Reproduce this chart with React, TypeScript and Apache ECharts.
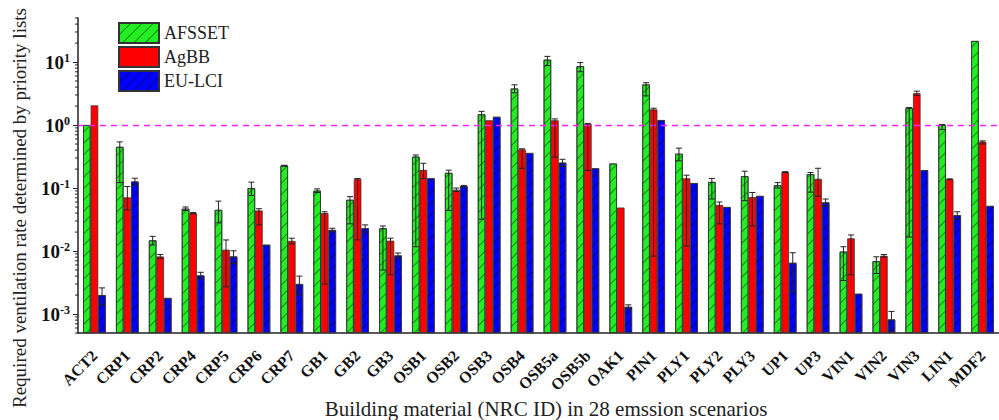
import { useEffect, useRef } from "react";
import * as echarts from "echarts";

const categories = [
  "ACT2", "CRP1", "CRP2", "CRP4", "CRP5", "CRP6", "CRP7", "GB1", "GB2", "GB3",
  "OSB1", "OSB2", "OSB3", "OSB4", "OSB5a", "OSB5b", "OAK1", "PIN1", "PLY1", "PLY2",
  "PLY3", "UP1", "UP3", "VIN1", "VIN2", "VIN3", "LIN1", "MDF2",
];

const seriesNames = ["AFSSET", "AgBB", "EU-LCI"];

const afssetValues = [
  1.0, 0.45, 0.0148, 0.047, 0.045, 0.1, 0.227, 0.091, 0.065, 0.023,
  0.315, 0.174, 1.48, 3.8, 10.9, 8.6, 0.245, 4.4, 0.35, 0.125,
  0.154, 0.111, 0.166, 0.0098, 0.0069, 1.86, 1.0, 21.6,
];
const afssetHigh = [
  null, 0.54, 0.0171, 0.05, 0.062, 0.124, 0.23, 0.097, 0.073, 0.025,
  0.335, 0.192, 1.65, 4.35, 12.3, 9.8, null, 4.7, 0.43, 0.142,
  0.185, 0.122, 0.176, 0.0117, 0.0081, 1.9, 1.02, null,
];
const afssetLow = [
  null, 0.122, 0.0125, 0.044, 0.028, 0.076, 0.224, 0.085, 0.027, 0.005,
  0.0117, 0.044, 0.032, 3.25, 8.8, 7.0, null, 2.9, 0.27, 0.067,
  0.063, 0.1, 0.086, 0.0034, 0.0044, 0.0167, 0.85, null,
];

const agbbValues = [
  2.05, 0.071, 0.0082, 0.04, 0.0105, 0.044, 0.0145, 0.04, 0.14, 0.0146,
  0.194, 0.094, 1.19, 0.41, 1.19, 1.04, 0.049, 1.77, 0.143, 0.054,
  0.072, 0.179, 0.14, 0.0159, 0.0084, 3.2, 0.138, 0.545,
];
const agbbHigh = [
  null, 0.106, 0.0088, 0.041, 0.015, 0.047, 0.016, 0.042, 0.142, 0.016,
  0.247, 0.1, null, 0.42, 1.25, 1.06, null, 1.85, 0.16, 0.06,
  0.085, 0.182, 0.206, 0.018, 0.0088, 3.45, 0.14, 0.56,
];
const agbbLow = [
  null, 0.045, 0.0076, 0.039, 0.0027, 0.026, 0.013, 0.003, 0.015, 0.0042,
  0.141, 0.088, null, 0.206, 0.31, 0.19, null, 0.0083, 0.012, 0.027,
  0.025, 0.176, 0.074, 0.0042, 0.008, 2.95, 0.136, 0.5,
];

const eulciValues = [
  0.002, 0.127, 0.0018, 0.0041, 0.0082, 0.0126, 0.003, 0.0216, 0.023, 0.0085,
  0.143, 0.107, 1.35, 0.36, 0.253, 0.206, 0.0013, 1.2, 0.12, 0.05,
  0.075, 0.0065, 0.059, 0.0021, 0.00082, 0.192, 0.037, 0.052,
];
const eulciHigh = [
  0.0026, 0.143, null, 0.0046, 0.0101, null, 0.004, 0.023, 0.026, 0.0093,
  null, 0.11, null, null, 0.286, null, 0.0014, null, null, null,
  null, 0.0094, 0.067, null, 0.0011, null, 0.042, null,
];
const eulciLow = [
  0.0014, 0.111, null, 0.0036, 0.0063, null, 0.002, 0.0202, 0.02, 0.0077,
  null, 0.104, null, null, 0.22, null, 0.0012, null, null, null,
  null, 0.0023, 0.051, null, 0.00054, null, 0.032, null,
];

const yTickExponents = [-3, -2, -1, 0, 1];
const referenceLevel = 1;

const FONT = "Liberation Serif";

export default function App() {
  const ref = useRef<HTMLDivElement>(null);

  useEffect(() => {
    document.body.style.margin = "0";
    const chart = echarts.init(ref.current!, null, { renderer: "svg" });

    const values = [afssetValues, agbbValues, eulciValues];
    const highs = [afssetHigh, agbbHigh, eulciHigh];
    const lows = [afssetLow, agbbLow, eulciLow];
    const colors = ["#22ee22", "#ff0000", "#0000ff"];
    const decals: any[] = [
      { symbol: "rect", symbolSize: 1, dashArrayX: [1, 0], dashArrayY: [1, 7], rotation: -Math.PI / 4, color: "rgba(0,60,0,0.55)" },
      null,
      { symbol: "rect", symbolSize: 1, dashArrayX: [1, 0], dashArrayY: [1, 7], rotation: -Math.PI / 4, color: "rgba(0,0,70,0.6)" },
    ];
    const barFrac = 0.23;

    const barSeries = seriesNames.map((name, s) => ({
      name,
      type: "bar",
      data: values[s],
      barWidth: barFrac * 100 + "%",
      barGap: "0%",
      itemStyle: {
        color: colors[s],
        borderColor: "#333",
        borderWidth: 0.8,
        ...(decals[s] ? { decal: decals[s] } : {}),
      },
      ...(s === 0
        ? {
            markLine: {
              silent: true,
              symbol: "none",
              label: { show: false },
              lineStyle: { color: "#ff22ff", type: [6, 5], width: 1.3 },
              data: [{ yAxis: referenceLevel }],
            },
          }
        : {}),
    }));

    const errSeries = seriesNames.map((name, s) => {
      const data: any[] = [];
      values[s].forEach((_, i) => {
        const hi = highs[s][i];
        const lo = lows[s][i];
        if (hi != null && lo != null) data.push([i, hi, lo]);
      });
      return {
        name: name + " error",
        type: "custom",
        z: 5,
        clip: false,
        encode: { x: 0, y: [1, 2] },
        data,
        renderItem: (params: any, api: any) => {
          const idx = api.value(0);
          const hi = api.value(1);
          const lo = api.value(2);
          const band = params.coordSys.width / categories.length;
          const off = (s - 1) * band * barFrac;
          const top = api.coord([idx, hi]);
          const bot = api.coord([idx, lo]);
          const x = top[0] + off;
          const st = { stroke: "#222", lineWidth: 1 };
          const cap = 3;
          return {
            type: "group",
            children: [
              { type: "line", shape: { x1: x, y1: top[1], x2: x, y2: bot[1] }, style: st },
              { type: "line", shape: { x1: x - cap, y1: top[1], x2: x + cap, y2: top[1] }, style: st },
              { type: "line", shape: { x1: x - cap, y1: bot[1], x2: x + cap, y2: bot[1] }, style: st },
            ],
          };
        },
      };
    });

    const minorValues: number[] = [];
    for (let e = -4; e <= 1; e++) {
      for (let k = 2; k <= 9; k++) {
        const v = k * Math.pow(10, e);
        if (v >= 5e-4 && v <= 50) minorValues.push(v);
      }
    }

    const minorTickSeries = {
      name: "minor ticks",
      type: "custom",
      clip: false,
      silent: true,
      data: [[0, 1]],
      renderItem: (params: any, api: any) => {
        const cs = params.coordSys;
        return {
          type: "group",
          children: minorValues.map((v) => {
            const y = api.coord([0, v])[1];
            return {
              type: "line",
              shape: { x1: cs.x - 3, y1: y, x2: cs.x, y2: y },
              style: { stroke: "#222", lineWidth: 1 },
            };
          }),
        };
      },
    };

    const option: any = {
      animation: false,
      backgroundColor: "#ffffff",
      legend: {
        data: seriesNames,
        orient: "vertical",
        left: 118,
        top: 22,
        padding: 0,
        itemWidth: 40,
        itemHeight: 20,
        itemGap: 2,
        icon: "rect",
        textStyle: { fontFamily: FONT, fontSize: 18, color: "#222" },
      },
      grid: { left: 78, top: 18, width: 930, height: 315 },
      xAxis: {
        type: "category",
        data: categories,
        axisLine: { lineStyle: { color: "#222", width: 1.5 } },
        axisTick: { alignWithLabel: true, length: 6, lineStyle: { color: "#222" } },
        axisLabel: {
          rotate: 45,
          interval: 0,
          fontFamily: FONT,
          fontWeight: "bold",
          fontSize: 16,
          color: "#111",
          margin: 20,
          padding: [34, 0, 0, 0],
        },
      },
      yAxis: {
        type: "log",
        logBase: 10,
        min: 5e-4,
        max: 50,
        startValue: 5e-4,
        axisLine: { show: true, lineStyle: { color: "#222", width: 1.5 } },
        axisTick: { show: true, length: 5, lineStyle: { color: "#222" } },
        splitLine: { show: false },
        axisLabel: {
          showMinLabel: false,
          showMaxLabel: false,
          margin: 8,
          formatter: (v: number) => {
            const e = Math.log10(v);
            const r = Math.round(e);
            if (Math.abs(e - r) > 1e-6 || !yTickExponents.includes(r)) return "";
            return `{b|10}{e|${r}}`;
          },
          rich: {
            b: { fontFamily: FONT, fontWeight: "bold", fontSize: 19, color: "#111" },
            e: { fontFamily: FONT, fontWeight: "bold", fontSize: 12, color: "#111", padding: [0, 0, 9, 0] },
          },
        },
      },
      graphic: [
        {
          type: "text",
          x: 19,
          y: 208,
          rotation: Math.PI / 2,
          style: {
            text: "Required ventilation rate determined by priority lists",
            fontFamily: FONT,
            fontSize: 19,
            fill: "#222",
            textAlign: "center",
            textVerticalAlign: "middle",
          },
        },
        {
          type: "text",
          x: 546,
          y: 409,
          style: {
            text: "Building material (NRC ID) in 28 emssion scenarios",
            fontFamily: FONT,
            fontSize: 21,
            fill: "#222",
            textAlign: "center",
            textVerticalAlign: "middle",
          },
        },
      ],
      series: [...barSeries, ...errSeries, minorTickSeries],
    };

    chart.setOption(option);
    return () => chart.dispose();
  }, []);

  return <div ref={ref} style={{ width: 999, height: 420 }} />;
}
